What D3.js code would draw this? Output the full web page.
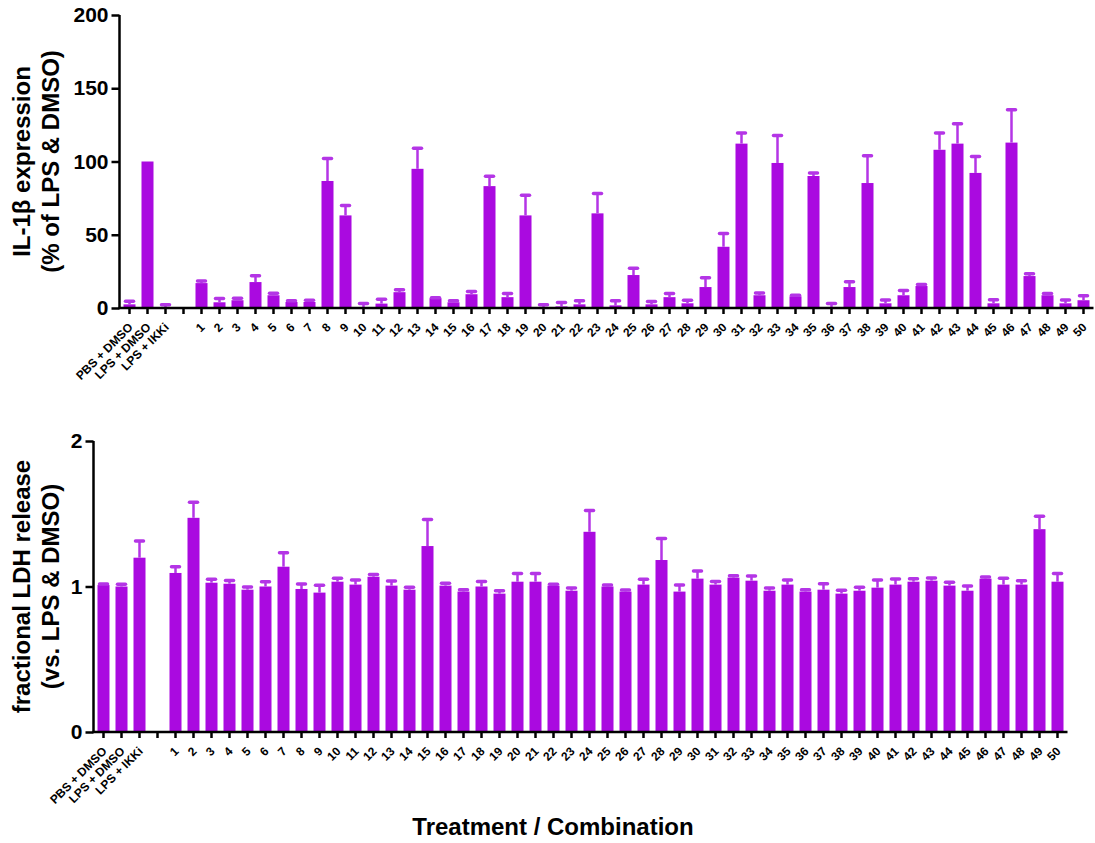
<!DOCTYPE html>
<html>
<head>
<meta charset="utf-8">
<script src="https://cdn.jsdelivr.net/npm/d3@7"></script>
<style>
  body { margin: 0; background: #fff; }
  svg text { font-family: "Liberation Sans", Arial, sans-serif; font-weight: bold; }
</style>
</head>
<body>
<div id="chart"></div>
<script>
// categories along the x axis (blank slot between controls and combos)
const categories = ['PBS + DMSO', 'LPS + DMSO', 'LPS + IKKi', '',
  '1','2','3','4','5','6','7','8','9','10','11','12','13','14','15','16','17','18','19','20',
  '21','22','23','24','25','26','27','28','29','30','31','32','33','34','35','36','37','38','39','40',
  '41','42','43','44','45','46','47','48','49','50']

// IL-1b expression (% of LPS & DMSO), mean and upper error
const il1bMean = [2.5, 100, 0.5, null,
  17, 3.9, 5.3, 17.7, 8.7, 4.1, 4.1, 86.7, 63.2, 0.5,
  3.0, 10.8, 95, 6.7, 3.9, 9.4, 83.2, 7.4, 63.2, 0.7,
  1.1, 2.5, 64.6, 1.8, 22.5, 2.5, 7.4, 3.2, 14.3, 41.8,
  112.2, 8.7, 99, 8, 90.1, 0.7, 14.3, 85.3, 3.2, 8.7,
  15, 108, 112.2, 92.2, 3.2, 112.9, 21.8, 8.7, 3.2, 5.3]
const il1bErr = [2.1, 0, 1.8, null,
  1.4, 2.5, 1.4, 4.3, 1.3, 0.9, 1.2, 15.3, 6.8, 2.5,
  3.0, 1.6, 14, 0.3, 1.1, 1.9, 6.8, 2.5, 13.8, 1.6,
  2.6, 2.5, 13.6, 3.2, 4.6, 1.9, 2.5, 2.1, 6.4, 9.0,
  7.3, 1.6, 18.7, 0.7, 2.1, 2.3, 3.6, 18.7, 2.3, 3.3,
  1.1, 11.5, 13.5, 11.2, 2.5, 22.5, 1.6, 1.2, 2.3, 3.0]

// fractional LDH release (vs. LPS & DMSO), mean and upper error
const ldhMean = [1.01, 1.0, 1.198, null,
  1.093, 1.472, 1.026, 1.019, 0.978, 1.0, 1.136, 0.983, 0.958, 1.033,
  1.013, 1.067, 1.006, 0.978, 1.278, 1.006, 0.965, 1.0, 0.951, 1.033,
  1.033, 1.006, 0.971, 1.376, 1.0, 0.965, 1.013, 1.182, 0.965, 1.054,
  1.013, 1.061, 1.04, 0.971, 1.013, 0.965, 0.978, 0.951, 0.971, 0.992,
  1.013, 1.033, 1.04, 1.006, 0.971, 1.054, 1.013, 1.013, 1.394, 1.033]
const ldhErr = [0.008, 0.015, 0.114, null,
  0.043, 0.107, 0.023, 0.023, 0.019, 0.033, 0.096, 0.034, 0.05, 0.023,
  0.032, 0.016, 0.032, 0.016, 0.183, 0.016, 0.013, 0.035, 0.02, 0.057,
  0.057, 0.009, 0.019, 0.146, 0.01, 0.011, 0.036, 0.148, 0.045, 0.052,
  0.022, 0.013, 0.032, 0.019, 0.032, 0.013, 0.041, 0.023, 0.023, 0.053,
  0.038, 0.021, 0.018, 0.023, 0.032, 0.011, 0.043, 0.027, 0.089, 0.057]

const il1bTicks = [0, 50, 100, 150, 200]
const ldhTicks = [0, 1, 2]

const width = 1095, height = 843
const barColor = '#aa0ae0', errColor = '#b435e6'

const svg = d3.select('#chart')
  .append('svg')
  .attr('width', width)
  .attr('height', height)

function drawPanel(cfg) {
  const x = d3.scaleBand()
    .domain(categories)
    .range([cfg.left + 1, cfg.left + 1 + categories.length * 18])
    .paddingInner(0.333)
    .paddingOuter(0.1665)
  const y = d3.scaleLinear()
    .domain(cfg.domain)
    .range([cfg.bottom, cfg.top])

  const g = svg.append('g')
  const rows = categories.map((c, i) => ({ c: c, v: cfg.mean[i], e: cfg.err[i] }))
    .filter(d => d.v != null)

  // bars
  g.selectAll('rect.bar')
    .data(rows)
    .enter()
    .append('rect')
    .attr('class', 'bar')
    .attr('x', d => x(d.c))
    .attr('width', x.bandwidth())
    .attr('y', d => y(d.v))
    .attr('height', d => cfg.bottom - y(d.v))
    .attr('fill', barColor)

  // upper error bars
  const eb = rows.filter(d => d.e > 0)
  const cx = d => x(d.c) + x.bandwidth() / 2
  g.selectAll('line.err')
    .data(eb)
    .enter()
    .append('line')
    .attr('x1', cx).attr('x2', cx)
    .attr('y1', d => y(d.v)).attr('y2', d => y(d.v + d.e))
    .attr('stroke', errColor)
    .attr('stroke-width', 2.5)
  g.selectAll('line.cap')
    .data(eb)
    .enter()
    .append('line')
    .attr('x1', d => cx(d) - 4).attr('x2', d => cx(d) + 4)
    .attr('y1', d => y(d.v + d.e)).attr('y2', d => y(d.v + d.e))
    .attr('stroke', errColor)
    .attr('stroke-width', 3.5)
    .attr('stroke-linecap', 'round')

  // y axis
  const yAxis = d3.axisLeft(y).tickValues(cfg.ticks).tickSize(8).tickPadding(3)
    .tickFormat(d3.format('d'))
  const ya = g.append('g')
    .attr('transform', `translate(${cfg.left},0)`)
    .call(yAxis)
  ya.select('.domain').attr('stroke-width', 2.5).attr('d', `M0,${cfg.bottom + 1}V${cfg.top}`)
  ya.selectAll('.tick line').attr('stroke-width', 2.5)
  ya.selectAll('.tick text').style('font-size', '21px').attr('fill', '#000')

  // x axis
  const xAxis = d3.axisBottom(x).tickSize(6).tickFormat('')
  const xa = g.append('g')
    .attr('transform', `translate(0,${cfg.bottom})`)
    .call(xAxis)
  xa.select('.domain').attr('stroke-width', 2.5)
    .attr('d', `M${cfg.left - 1},0H${cfg.left + 2 + categories.length * 18}`)
  xa.selectAll('.tick line').attr('stroke-width', 2.5)
  xa.selectAll('.tick')
    .append('text')
    .text(d => d)
    .attr('text-anchor', 'end')
    .attr('fill', '#000')
    .attr('transform', 'translate(4,20) rotate(-45)')
    .style('font-size', '12px')

  // y title, two lines
  const mid = (cfg.top + cfg.bottom) / 2
  cfg.title.forEach((t, i) => {
    svg.append('text')
      .text(t)
      .attr('transform', `translate(${30 + i * 29},${mid}) rotate(-90)`)
      .attr('text-anchor', 'middle')
      .style('font-size', '24px')
  })
}

drawPanel({
  left: 119.5, top: 15, bottom: 308, domain: [0, 200],
  ticks: il1bTicks, mean: il1bMean, err: il1bErr,
  title: ['IL-1β expression', '(% of LPS & DMSO)']
})

drawPanel({
  left: 93.5, top: 441, bottom: 732, domain: [0, 2],
  ticks: ldhTicks, mean: ldhMean, err: ldhErr,
  title: ['fractional LDH release', '(vs. LPS & DMSO)']
})

svg.append('text')
  .text('Treatment / Combination')
  .attr('x', 553)
  .attr('y', 835)
  .attr('text-anchor', 'middle')
  .style('font-size', '24px')
</script>
</body>
</html>
